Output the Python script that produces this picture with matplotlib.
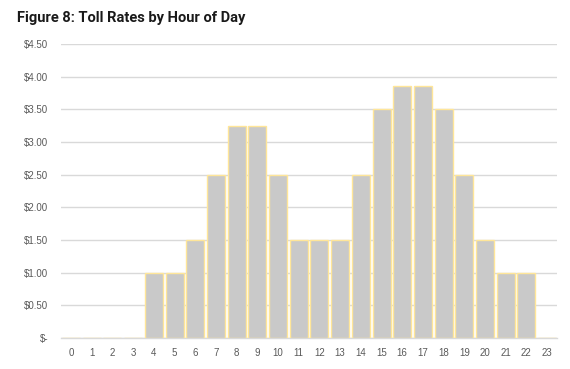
import matplotlib
matplotlib.use("Agg")
import matplotlib.pyplot as plt
from matplotlib.ticker import FuncFormatter

hours = list(range(24))
rates = [0, 0, 0, 0, 1.00, 1.00, 1.50, 2.50, 3.25, 3.25, 2.50, 1.50,
         1.50, 1.50, 2.50, 3.50, 3.85, 3.85, 3.50, 2.50, 1.50, 1.00, 1.00, 0]
y_ticks = [0, 0.5, 1.0, 1.5, 2.0, 2.5, 3.0, 3.5, 4.0, 4.5]
title = "Figure 8: Toll Rates by Hour of Day"

fig = plt.figure(figsize=(5.7, 3.69), dpi=100)
ax = fig.add_axes([0.1065, 0.084, 0.8715, 0.797])

ax.bar(hours, rates, width=0.87, color="#c9c9c9", edgecolor="#ffe699", linewidth=1.0, zorder=3)

ax.set_xlim(-0.5, 23.5)
ax.set_ylim(0, 4.5)
ax.set_yticks(y_ticks)
ax.set_xticks(hours)
ax.set_xticklabels([str(h) for h in hours])

def fmt(v, pos):
    return "$-" if v == 0 else f"${v:.2f}"
ax.yaxis.set_major_formatter(FuncFormatter(fmt))

ax.grid(axis="y", color="#d9d9d9", linewidth=1.0, zorder=0)
for s in ["top", "right", "left"]:
    ax.spines[s].set_visible(False)
ax.spines["bottom"].set_color("#d9d9d9")
ax.spines["bottom"].set_linewidth(1.0)
ax.tick_params(axis="both", length=0, labelsize=7, colors="#595959")
ax.tick_params(axis="y", pad=9)
ax.tick_params(axis="x", pad=7)
for lbl in ax.get_yticklabels() + ax.get_xticklabels():
    lbl.set_fontfamily("Liberation Sans")

fig.text(0.03, 0.95, title, fontsize=10.5, fontweight="bold", fontfamily="Roboto",
         ha="left", va="center", color="#1a1a1a")

fig.savefig("out.png", dpi=100)
